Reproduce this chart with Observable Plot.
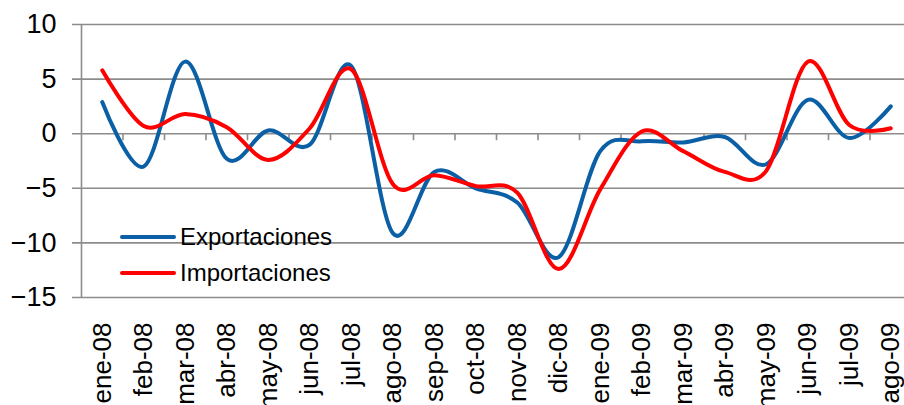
<!DOCTYPE html>
<html>
<head>
<meta charset="utf-8">
<script src="https://cdn.jsdelivr.net/npm/d3@7"></script>
<script src="https://cdn.jsdelivr.net/npm/@observablehq/plot@0.6"></script>
<style>
  html, body { margin: 0; padding: 0; background: #fff; }
  #wrap { position: relative; width: 904px; height: 405px; overflow: hidden; font-family: Arial, "Liberation Sans", sans-serif; }
  #legend { position: absolute; left: 120px; top: 219px; }
  .row { display: flex; align-items: center; height: 36px; }
  .sw { width: 56px; height: 4px; border-radius: 2px; margin-right: 4px; }
  .lab { font-size: 24px; color: #000; line-height: 1; }
</style>
</head>
<body>
<div id="wrap"><div id="legend"></div></div>
<script>
const months = ["ene-08","feb-08","mar-08","abr-08","may-08","jun-08","jul-08","ago-08","sep-08","oct-08","nov-08","dic-08","ene-09","feb-09","mar-09","abr-09","may-09","jun-09","jul-09","ago-09"];
const exportaciones = [2.9,-3.0,6.6,-2.3,0.3,-1.0,6.2,-9.1,-3.5,-5.0,-6.3,-11.3,-1.6,-0.7,-0.8,-0.3,-2.8,3.1,-0.4,2.5];
const importaciones = [5.8,0.7,1.8,0.6,-2.4,0.5,5.9,-4.6,-3.8,-4.8,-5.4,-12.4,-5.1,0.2,-1.6,-3.5,-3.4,6.6,0.8,0.5];
const seriesNames = ["Exportaciones","Importaciones"];
const seriesColors = ["#0b5fa5","#ff0000"];
const yTicks = [10,5,0,-5,-10,-15];

const idx = months.map((_, i) => i);
const dataExp = idx.map(i => ({i, v: exportaciones[i]}));
const dataImp = idx.map(i => ({i, v: importaciones[i]}));
const boundaries = idx.slice(1).map(i => i - 0.5);
const xDomain = [-0.5, months.length - 0.5];
const grid = "#8c8c8c";

const chart = Plot.plot({
  width: 904,
  height: 405,
  marginLeft: 81,
  marginRight: 0,
  marginTop: 24,
  marginBottom: 108,
  style: {fontFamily: "Arial, 'Liberation Sans', sans-serif", fontSize: "27px", background: "transparent", color: "#000"},
  x: {type: "linear", domain: xDomain, range: [81, 911]},
  y: {domain: [-15, 10]},
  marks: [
    Plot.ruleY(yTicks, {stroke: grid, strokeWidth: 1.6, insetLeft: -9}),
    Plot.ruleX([xDomain[0]], {y1: yTicks[yTicks.length - 1], y2: yTicks[0], stroke: grid, strokeWidth: 1.6}),
    Plot.ruleX(boundaries, {y1: 0, y2: 0, insetBottom: -7, stroke: grid, strokeWidth: 1.6}),
    Plot.axisY(yTicks, {tickSize: 0, tickPadding: 25, fontSize: 27, label: null}),
    Plot.axisX(idx, {tickSize: 0, tickPadding: 25, tickRotate: -90, tickFormat: i => months[i], fontSize: 26, label: null}),
    Plot.line(dataExp, {x: "i", y: "v", stroke: seriesColors[0], strokeWidth: 4, curve: "cardinal"}),
    Plot.line(dataImp, {x: "i", y: "v", stroke: seriesColors[1], strokeWidth: 4, curve: "cardinal"})
  ]
});
const wrap = document.getElementById("wrap");
wrap.insertBefore(chart, wrap.firstChild);

const legend = document.getElementById("legend");
seriesNames.forEach((n, k) => {
  const row = document.createElement("div");
  row.className = "row";
  const sw = document.createElement("div");
  sw.className = "sw";
  sw.style.background = seriesColors[k];
  const lab = document.createElement("span");
  lab.className = "lab";
  lab.textContent = n;
  row.appendChild(sw);
  row.appendChild(lab);
  legend.appendChild(row);
});
</script>
</body>
</html>
